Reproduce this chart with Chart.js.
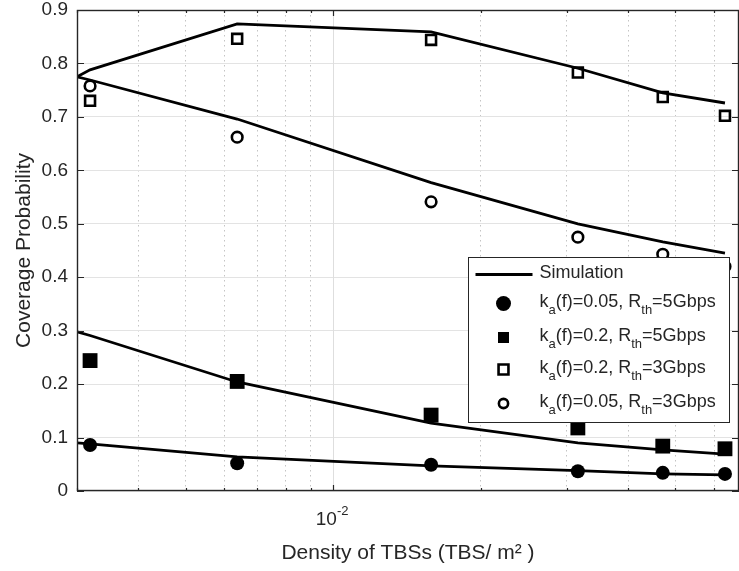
<!DOCTYPE html>
<html>
<head>
<meta charset="utf-8">
<script src="https://cdn.jsdelivr.net/npm/chart.js@4.4.1/dist/chart.umd.min.js"></script>
<style>
  html, body { margin: 0; padding: 0; background: #fff; }
</style>
</head>
<body>
<canvas id="myCanvas" width="739" height="571"></canvas>
<script>
// values (x = density in TBS/m^2)
const simDensity = [0.003, 0.00319, 0.00637, 0.01585, 0.0316, 0.0471, 0.0631];
const simOpenSquare = [0.775, 0.788, 0.874, 0.859, 0.791, 0.745, 0.726];
const simOpenCircle = [0.775, 0.769, 0.696, 0.577, 0.500, 0.466, 0.445];
const simFilledSquare = [0.298, 0.291, 0.204, 0.127, 0.090, 0.077, 0.069];
const simFilledCircle = [0.090, 0.088, 0.064, 0.047, 0.038, 0.032, 0.030];

const markerDensity = [0.00319, 0.00637, 0.01585, 0.0316, 0.0471, 0.0631];
const filledCircle = [0.086, 0.052, 0.049, 0.037, 0.034, 0.032];
const filledSquare = [0.244, 0.205, 0.142, 0.118, 0.084, 0.079];
const openSquare = [0.730, 0.846, 0.844, 0.783, 0.737, 0.702];
const openCircle = [0.758, 0.662, 0.541, 0.475, 0.443, 0.420];

const xGridValues = [0.003, 0.004, 0.005, 0.006, 0.007, 0.008, 0.009, 0.01, 0.02, 0.03, 0.04, 0.05, 0.06];
const xLabelValue = 0.01;
const xLabelBase = '10', xLabelExp = '-2';
const xMin = 0.003, xMax = 0.0674;
const yMin = 0, yMax = 0.9;

const legendLabels = [
    'Simulation',
    'k_{a}(f)=0.05, R_{th}=5Gbps',
    'k_{a}(f)=0.2, R_{th}=5Gbps',
    'k_{a}(f)=0.2, R_{th}=3Gbps',
    'k_{a}(f)=0.05, R_{th}=3Gbps'
];

const FONT = "'Liberation Sans', Arial, Helvetica, sans-serif";
const TEXT = '#262626';

function toXY(xs, ys) {
    return xs.map(function (x, i) { return {x: x, y: ys[i]}; });
}

function simLine(values) {
    return {
        data: toXY(simDensity, values),
        borderColor: '#000',
        borderWidth: 2.8,
        pointRadius: 0,
        fill: false,
        tension: 0,
        order: 2
    };
}

function markers(values, style, radius, filled, lw) {
    return {
        data: toXY(markerDensity, values),
        showLine: false,
        pointStyle: style,
        pointRadius: radius,
        pointBackgroundColor: filled ? '#000' : 'rgba(0,0,0,0)',
        pointBorderColor: '#000',
        pointBorderWidth: lw,
        order: 1
    };
}

var datasets = [
    simLine(simOpenSquare),
    simLine(simOpenCircle),
    simLine(simFilledSquare),
    simLine(simFilledCircle),
    markers(filledCircle, 'circle', 7, true, 0),
    markers(filledSquare, 'rect', 10.5, true, 0),
    markers(openSquare, 'rect', 7, false, 2.6),
    markers(openCircle, 'circle', 5.3, false, 2.6)
];

// legend marker per row: [style, radius, filled, borderWidth]
var legendMarks = [
    null,
    ['circle', 7.5, true, 0],
    ['rect', 7.8, true, 0],
    ['rect', 7, false, 2.6],
    ['circle', 4.6, false, 2.6]
];
var legendRows = [17, 46, 80, 112, 146];

function drawRichText(ctx, text, x, y, size) {
    var parts = text.split(/(_\{[^}]*\})/);
    ctx.textBaseline = 'middle';
    ctx.textAlign = 'left';
    parts.forEach(function (p) {
        if (!p) return;
        if (p.charAt(0) === '_') {
            var s = p.slice(2, -1);
            ctx.font = Math.round(size * 0.72) + 'px ' + FONT;
            ctx.fillText(s, x, y + size * 0.45);
            x += ctx.measureText(s).width;
        } else {
            ctx.font = size + 'px ' + FONT;
            ctx.fillText(p, x, y);
            x += ctx.measureText(p).width;
        }
    });
}

const frameAndLegend = {
    id: 'frameAndLegend',
    beforeDatasetsDraw(chart) {
        const ctx = chart.ctx, a = chart.chartArea, xs = chart.scales.x;
        const px = Math.round(xs.getPixelForValue(xLabelValue)) + 0.5;
        ctx.save();
        ctx.strokeStyle = '#dedede';
        ctx.lineWidth = 1;
        ctx.beginPath();
        ctx.moveTo(px, a.top);
        ctx.lineTo(px, a.bottom);
        ctx.stroke();
        ctx.restore();
    },
    afterDatasetsDraw(chart) {
        const ctx = chart.ctx, a = chart.chartArea;
        const xs = chart.scales.x, ys = chart.scales.y;
        ctx.save();
        ctx.strokeStyle = TEXT;
        ctx.lineWidth = 1.2;
        ctx.beginPath();
        xGridValues.forEach(function (v) {
            const p = Math.round(xs.getPixelForValue(v)) + 0.5;
            const len = v === xLabelValue ? 6 : 3;
            ctx.moveTo(p, a.bottom); ctx.lineTo(p, a.bottom - len);
            ctx.moveTo(p, a.top); ctx.lineTo(p, a.top + len);
        });
        for (let v = yMin; v <= yMax + 1e-9; v += 0.1) {
            const p = Math.round(ys.getPixelForValue(v)) + 0.5;
            ctx.moveTo(a.left, p); ctx.lineTo(a.left + 7, p);
            ctx.moveTo(a.right, p); ctx.lineTo(a.right - 7, p);
        }
        ctx.stroke();
        ctx.lineWidth = 1.4;
        ctx.strokeRect(Math.round(a.left) + 0.5, Math.round(a.top) + 0.5,
            Math.round(a.right - a.left) - 1, Math.round(a.bottom - a.top) - 1);

        // x tick label with superscript exponent
        const lx = xs.getPixelForValue(xLabelValue);
        ctx.fillStyle = TEXT;
        ctx.textAlign = 'left';
        ctx.textBaseline = 'alphabetic';
        ctx.font = '19px ' + FONT;
        const w1 = ctx.measureText(xLabelBase).width;
        ctx.font = '13px ' + FONT;
        const w2 = ctx.measureText(xLabelExp).width;
        const sx = lx - 1 - (w1 + w2) / 2;
        ctx.font = '19px ' + FONT;
        ctx.fillText(xLabelBase, sx, a.bottom + 34);
        ctx.font = '13px ' + FONT;
        ctx.fillText(xLabelExp, sx + w1, a.bottom + 24);

        // legend box
        const bw = 261, bh = 165;
        const bx = Math.round(a.right - 10 - bw) + 0.5;
        const by = Math.round(a.top + 247) + 0.5;
        ctx.fillStyle = '#fff';
        ctx.fillRect(bx, by, bw, bh);
        ctx.strokeStyle = TEXT;
        ctx.lineWidth = 1;
        ctx.strokeRect(bx, by, bw, bh);

        legendLabels.forEach(function (label, i) {
            const cy = by + legendRows[i];
            ctx.fillStyle = TEXT;
            drawRichText(ctx, label, bx + 71, cy - 1, 18);
            const m = legendMarks[i];
            ctx.strokeStyle = '#000';
            ctx.fillStyle = '#000';
            if (!m) {
                ctx.lineWidth = 2.8;
                ctx.beginPath();
                ctx.moveTo(bx + 7, cy);
                ctx.lineTo(bx + 64, cy);
                ctx.stroke();
            } else {
                ctx.fillStyle = m[2] ? '#000' : 'rgba(0,0,0,0)';
                ctx.lineWidth = m[3];
                Chart.helpers.drawPoint(ctx, {pointStyle: m[0], radius: m[1], rotation: 0, borderWidth: m[3]}, bx + 35, cy);
            }
        });
        ctx.restore();
    }
};

new Chart(document.getElementById('myCanvas').getContext('2d'), {
    type: 'line',
    data: {datasets: datasets},
    plugins: [frameAndLegend],
    options: {
        responsive: false,
        animation: false,
        devicePixelRatio: 1,
        layout: {autoPadding: false, padding: {top: 10, right: 0, bottom: 0, left: 0}},
        plugins: {legend: {display: false}, tooltip: {enabled: false}},
        scales: {
            x: {
                type: 'logarithmic',
                min: xMin,
                max: xMax,
                afterBuildTicks: function (scale) {
                    scale.ticks = xGridValues.map(function (v) { return {value: v, major: v === xLabelValue}; });
                },
                afterFit: function (scale) {
                    scale.height = 80;
                    scale.paddingLeft = 0;
                    scale.paddingRight = 0;
                },
                ticks: {
                    autoSkip: false,
                    maxRotation: 0,
                    callback: function () { return ''; }
                },
                grid: {
                    drawTicks: false,
                    color: function (c) { return c.tick && c.tick.value === xLabelValue ? 'rgba(0,0,0,0)' : '#c4c4c4'; },
                    lineWidth: 1
                },
                border: {display: false, dash: [1.5, 3.5]},
                title: {
                    display: true,
                    text: 'Density of TBSs (TBS/ m\u00B2 )',
                    color: TEXT,
                    font: {family: FONT, size: 21},
                    padding: {top: 0, bottom: 5}
                }
            },
            y: {
                min: yMin,
                max: yMax,
                afterFit: function (scale) {
                    scale.width = 77;
                    scale.paddingTop = 0;
                    scale.paddingBottom = 0;
                },
                ticks: {
                    stepSize: 0.1,
                    padding: 9,
                    color: TEXT,
                    font: {family: FONT, size: 19}
                },
                grid: {drawTicks: false, color: '#e3e3e3', lineWidth: 1},
                border: {display: false},
                title: {
                    display: true,
                    text: 'Coverage Probability',
                    color: TEXT,
                    font: {family: FONT, size: 21},
                    padding: {top: 12, bottom: 0}
                }
            }
        }
    }
});
</script>
</body>
</html>
